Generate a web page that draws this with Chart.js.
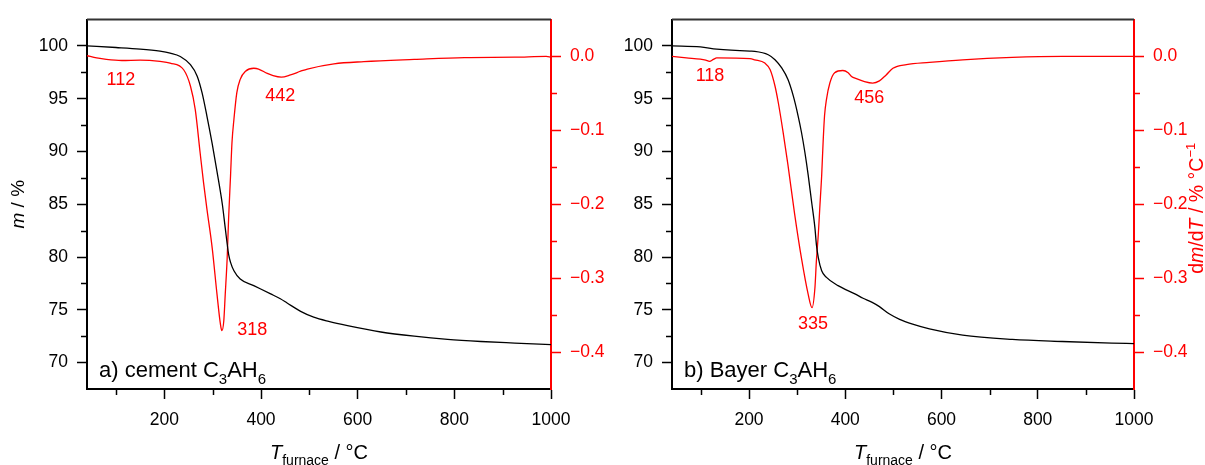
<!DOCTYPE html>
<html>
<head>
<meta charset="utf-8">
<script src="https://cdn.jsdelivr.net/npm/chart.js@4/dist/chart.umd.min.js"></script>
<style>
    body { margin: 0; background: #fff; }
    #wrap { position: relative; width: 1205px; height: 465px; overflow: hidden; }
    canvas { position: absolute; top: 0; }
    #cA { left: 0; }
    #cB { left: 615px; }
</style>
</head>
<body>
<div id="wrap">
    <canvas id="cA" width="615" height="465"></canvas>
    <canvas id="cB" width="590" height="465"></canvas>
</div>
<script>
// ---------- DATA ----------
// a) cement C3AH6
const tgT_a = [40, 100, 150, 191, 212, 233, 254, 268, 278, 288, 299, 309, 320, 326, 333, 337, 344, 357, 385, 420, 440, 454, 482, 509, 540, 579, 648, 717, 786, 855, 925, 1000];
const tgM_a = [100.0, 99.85, 99.7, 99.5, 99.32, 99.0, 98.22, 97.13, 95.57, 93.38, 90.75, 88.1, 85.0, 82.76, 80.26, 79.5, 78.7, 77.92, 77.29, 76.51, 76.05, 75.65, 74.85, 74.3, 73.9, 73.5, 72.9, 72.5, 72.2, 72.0, 71.85, 71.7];
const dtgT_a = [40, 60, 80, 112, 150, 191, 212, 240, 254, 264, 274, 281, 288, 299, 309, 316, 319, 323, 326, 330, 333, 337, 340, 344, 350, 357, 368, 385, 395, 413, 425, 442, 461, 482, 496, 551, 613, 717, 821, 925, 990, 1000];
const dtgD_a = [0.001, -0.002, -0.004, -0.0055, -0.005, -0.0067, -0.009, -0.018, -0.040, -0.072, -0.130, -0.170, -0.206, -0.259, -0.322, -0.362, -0.371, -0.358, -0.322, -0.273, -0.219, -0.161, -0.116, -0.085, -0.049, -0.031, -0.020, -0.016, -0.017, -0.023, -0.026, -0.028, -0.025, -0.020, -0.017, -0.010, -0.007, -0.004, -0.0015, -0.001, 0.0, -0.001];
const peakText_a = ["112", "442", "318"];
const peakX_a = [110, 440, 382];
const peakY_a = [-0.032, -0.054, -0.370];

// b) Bayer C3AH6
const tgT_b = [40, 99, 133, 202, 212, 240, 254, 268, 281, 292, 302, 309, 316, 323, 330, 337, 340, 344, 351, 361, 385, 420, 437, 456, 471, 492, 513, 540, 575, 644, 747, 851, 954, 1000];
const tgM_b = [100.0, 99.9, 99.7, 99.5, 99.48, 99.16, 98.69, 97.91, 96.81, 95.26, 93.38, 91.82, 89.95, 87.76, 85.26, 82.76, 81.2, 79.94, 78.7, 78.07, 77.29, 76.51, 76.1, 75.7, 75.3, 74.6, 74.1, 73.65, 73.2, 72.6, 72.2, 72.0, 71.85, 71.8];
const dtgT_b = [40, 70, 99, 110, 118, 126, 133, 202, 212, 233, 244, 254, 261, 271, 281, 295, 309, 323, 331, 337, 340, 344, 347, 351, 354, 357, 361, 368, 378, 395, 406, 413, 423, 440, 457, 471, 485, 499, 527, 575, 644, 747, 851, 1000];
const dtgD_b = [0.0, -0.002, -0.0036, -0.005, -0.0067, -0.004, -0.002, -0.003, -0.0045, -0.009, -0.018, -0.040, -0.063, -0.103, -0.147, -0.214, -0.273, -0.322, -0.340, -0.313, -0.277, -0.241, -0.206, -0.161, -0.116, -0.080, -0.058, -0.036, -0.022, -0.019, -0.022, -0.027, -0.030, -0.034, -0.036, -0.033, -0.025, -0.016, -0.011, -0.008, -0.0045, -0.0013, 0.0, 0.0];
const peakText_b = ["118", "456", "335"];
const peakX_b = [119, 450, 333];
const peakY_b = [-0.026, -0.056, -0.362];

// ticks
const xTicks = [200, 400, 600, 800, 1000];
const xMinor = [100, 300, 500, 700, 900];
const mTicks = [70, 75, 80, 85, 90, 95, 100];
const mMinor = [72.5, 77.5, 82.5, 87.5, 92.5, 97.5];
const dTicks = [0, -0.1, -0.2, -0.3, -0.4];
const dMinor = [-0.05, -0.15, -0.25, -0.35];

// ---------- HELPERS ----------
const FONT = "'Liberation Sans', Arial, sans-serif";
const RED = "#ff0000";

function pts(xs, ys) {
    return xs.map((x, i) => ({ x, y: ys[i] }));
}

// segments: {t, it, sub, sup}
function drawRich(ctx, segs, x, y, size, color, align) {
    const fontFor = s => `${s.it ? "italic " : ""}${(s.sub || s.sup) ? Math.round(size * 0.68) : size}px ${FONT}`;
    let total = 0;
    segs.forEach(s => { ctx.font = fontFor(s); total += ctx.measureText(s.t).width; });
    let cx = align === "center" ? x - total / 2 : x;
    ctx.fillStyle = color;
    ctx.textAlign = "left";
    ctx.textBaseline = "alphabetic";
    segs.forEach(s => {
        ctx.font = fontFor(s);
        const dy = s.sub ? size * 0.3 : s.sup ? -size * 0.42 : 0;
        ctx.fillText(s.t, cx, y + dy);
        cx += ctx.measureText(s.t).width;
    });
}

function minusFmt(v) {
    const s = Math.abs(v).toFixed(1);
    return v < -1e-9 ? "\u2212" + s : s;
}

// ---------- PLUGIN ----------
const decoPlugin = {
    id: "deco",
    afterDraw(chart) {
        const o = chart.options.plugins.deco;
        const ctx = chart.ctx;
        const a = chart.chartArea;
        const sx = chart.scales.x, sm = chart.scales.m, sd = chart.scales.d;
        ctx.save();

        // top frame line
        ctx.strokeStyle = "#333";
        ctx.lineWidth = 2;
        ctx.beginPath();
        ctx.moveTo(a.left, a.top);
        ctx.lineTo(a.right, a.top);
        ctx.stroke();

        // minor ticks
        ctx.lineWidth = 1.5;
        ctx.strokeStyle = "#000";
        xMinor.forEach(v => {
            const px = Math.round(sx.getPixelForValue(v)) + 0.5;
            ctx.beginPath(); ctx.moveTo(px, a.bottom); ctx.lineTo(px, a.bottom + 6); ctx.stroke();
        });
        mMinor.forEach(v => {
            const py = Math.round(sm.getPixelForValue(v)) + 0.5;
            ctx.beginPath(); ctx.moveTo(a.left, py); ctx.lineTo(a.left - 6, py); ctx.stroke();
        });
        ctx.strokeStyle = RED;
        dMinor.forEach(v => {
            const py = Math.round(sd.getPixelForValue(v)) + 0.5;
            ctx.beginPath(); ctx.moveTo(a.right, py); ctx.lineTo(a.right + 6, py); ctx.stroke();
        });

        // peak labels
        ctx.font = `18px ${FONT}`;
        ctx.fillStyle = RED;
        ctx.textAlign = "center";
        ctx.textBaseline = "middle";
        o.peakText.forEach((t, i) => {
            ctx.fillText(t, sx.getPixelForValue(o.peakX[i]), sd.getPixelForValue(o.peakY[i]));
        });

        // sample label
        drawRich(ctx, o.sample, a.left + 12, a.bottom - 12, 22, "#000", "left");

        // x title
        drawRich(ctx, [{ t: "T", it: true }, { t: "furnace", sub: true }, { t: " / \u00b0C" }],
            (a.left + a.right) / 2, 459, 20, "#000", "center");

        // y titles
        const cy = (a.top + a.bottom) / 2;
        if (o.leftTitle) {
            ctx.save();
            ctx.translate(24, cy);
            ctx.rotate(-Math.PI / 2);
            drawRich(ctx, [{ t: "m", it: true }, { t: " / %" }], 0, 0, 19, "#000", "center");
            ctx.restore();
        }
        if (o.rightTitle) {
            ctx.save();
            ctx.translate(chart.width - 2, cy + 4);
            ctx.rotate(-Math.PI / 2);
            drawRich(ctx, [{ t: "d" }, { t: "m", it: true }, { t: "/d" }, { t: "T", it: true },
                { t: " / % \u00b0C" }, { t: "\u22121", sup: true }], 0, 0, 19.5, RED, "center");
            ctx.restore();
        }
        ctx.restore();
    }
};

// ---------- CHART ----------
function makeChart(canvasId, d) {
    const W = d.width;
    return new Chart(document.getElementById(canvasId), {
        type: "line",
        data: {
            datasets: [
                {
                    data: pts(d.tgT, d.tgM), yAxisID: "m",
                    borderColor: "#000", borderWidth: 1.3, pointRadius: 0,
                    cubicInterpolationMode: "monotone", fill: false
                },
                {
                    data: pts(d.dtgT, d.dtgD), yAxisID: "d",
                    borderColor: RED, borderWidth: 1.3, pointRadius: 0,
                    cubicInterpolationMode: "monotone", fill: false
                }
            ]
        },
        options: {
            responsive: false,
            animation: false,
            devicePixelRatio: 1,
            layout: { padding: { top: 16, left: 0, right: 0, bottom: 0 } },
            plugins: {
                legend: { display: false },
                tooltip: { enabled: false },
                deco: {
                    peakText: d.peakText, peakX: d.peakX, peakY: d.peakY,
                    sample: d.sample, leftTitle: d.leftTitle, rightTitle: d.rightTitle
                }
            },
            scales: {
                x: {
                    type: "linear", position: "bottom", min: 40, max: 1000,
                    afterBuildTicks: s => { s.ticks = xTicks.map(v => ({ value: v })); },
                    afterFit: s => { s.height = 465 - 389; },
                    border: { color: "#000", width: 2 },
                    grid: { drawOnChartArea: false, tickLength: 10, tickColor: "#000", tickWidth: 1.5 },
                    ticks: { color: "#000", padding: 11, maxRotation: 0, font: { family: FONT, size: 17.5 }, callback: v => String(v) }
                },
                m: {
                    type: "linear", position: "left", min: 67.5, max: 102.5,
                    afterBuildTicks: s => { s.ticks = mTicks.map(v => ({ value: v })); },
                    afterFit: s => { s.width = d.leftW; },
                    border: { color: "#000", width: 2 },
                    grid: { drawOnChartArea: false, tickLength: 10, tickColor: "#000", tickWidth: 1.5 },
                    ticks: { color: "#000", padding: 9, font: { family: FONT, size: 17.5 }, callback: v => String(v) }
                },
                d: {
                    type: "linear", position: "right", min: -0.45, max: 0.05,
                    afterBuildTicks: s => { s.ticks = dTicks.map(v => ({ value: v })); },
                    afterFit: s => { s.width = W - d.rightEdge; },
                    border: { color: RED, width: 2 },
                    grid: { drawOnChartArea: false, tickLength: 10, tickColor: RED, tickWidth: 1.5 },
                    ticks: { color: RED, padding: 9, font: { family: FONT, size: 17.5 }, callback: minusFmt }
                }
            }
        },
        plugins: [decoPlugin]
    });
}

makeChart("cA", {
    width: 615, leftW: 87, rightEdge: 551,
    tgT: tgT_a, tgM: tgM_a, dtgT: dtgT_a, dtgD: dtgD_a,
    peakText: peakText_a, peakX: peakX_a, peakY: peakY_a,
    sample: [{ t: "a) cement C" }, { t: "3", sub: true }, { t: "AH" }, { t: "6", sub: true }],
    leftTitle: true, rightTitle: false
});

// canvas B sits at page x = 615
makeChart("cB", {
    width: 590, leftW: 57, rightEdge: 519,
    tgT: tgT_b, tgM: tgM_b, dtgT: dtgT_b, dtgD: dtgD_b,
    peakText: peakText_b, peakX: peakX_b, peakY: peakY_b,
    sample: [{ t: "b) Bayer C" }, { t: "3", sub: true }, { t: "AH" }, { t: "6", sub: true }],
    leftTitle: false, rightTitle: true
});
</script>
</body>
</html>
